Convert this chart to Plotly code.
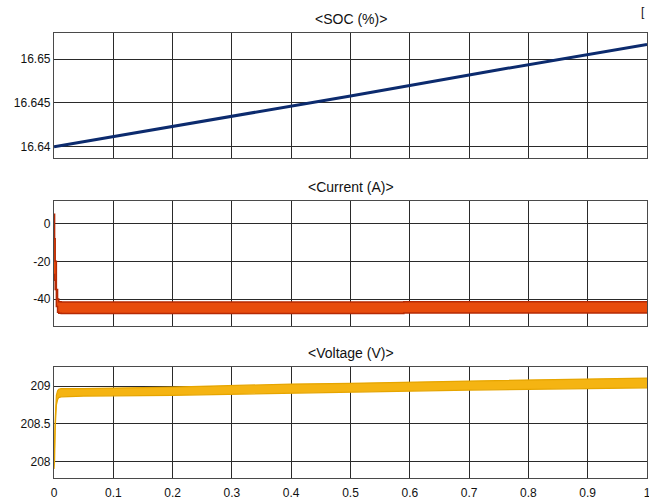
import plotly.graph_objects as go

# ---- data ----
soc_t = [0.0, 0.25, 0.5, 0.75, 1.0]
soc_v = [16.6400, 16.6429, 16.6458, 16.6488, 16.6517]

cur_t = [0.0, 0.001, 0.002, 0.004, 0.006, 0.008, 0.012, 0.1, 0.3, 0.58, 0.59, 0.8, 1.0]
cur_hi = [5.0, -8.0, -20.0, -35.0, -40.0, -41.5, -41.6, -41.6, -41.6, -41.6, -41.5, -41.5, -41.5]
cur_lo = [-27.0, -30.0, -35.0, -44.0, -47.0, -47.6, -47.7, -47.7, -47.7, -47.7, -47.4, -47.4, -47.4]

volt_t = [0.0, 0.001, 0.002, 0.004, 0.006, 0.008, 0.012, 0.05, 0.2, 0.4, 0.5, 0.7, 0.9, 1.0]
volt_hi = [207.95, 208.3, 208.55, 208.88, 208.94, 208.96, 208.97, 208.97, 208.99, 209.03, 209.04, 209.07, 209.10, 209.11]
volt_lo = [207.90, 208.0, 208.45, 208.75, 208.82, 208.85, 208.86, 208.87, 208.88, 208.91, 208.92, 208.95, 208.97, 208.98]

titles = ["<SOC (%)>", "<Current (A)>", "<Voltage (V)>"]
x_ticks = [0, 0.1, 0.2, 0.3, 0.4, 0.5, 0.6, 0.7, 0.8, 0.9, 1]
x_labels = ["0", "0.1", "0.2", "0.3", "0.4", "0.5", "0.6", "0.7", "0.8", "0.9", "1"]
soc_ticks = [16.64, 16.645, 16.65]
cur_ticks = [0, -20, -40]
volt_ticks = [208, 208.5, 209]

fig = go.Figure()

# SOC
fig.add_trace(go.Scatter(x=soc_t, y=soc_v, mode="lines",
                         line=dict(color="#0C2B6E", width=3),
                         xaxis="x", yaxis="y", showlegend=False))
# Current band
fig.add_trace(go.Scatter(x=cur_t, y=cur_lo, mode="lines",
                         line=dict(color="#B52A05", width=1.5, shape="hv"),
                         xaxis="x2", yaxis="y2", showlegend=False))
fig.add_trace(go.Scatter(x=cur_t, y=cur_hi, mode="lines", fill="tonexty",
                         fillcolor="#E84C0C",
                         line=dict(color="#B52A05", width=1.5, shape="hv"),
                         xaxis="x2", yaxis="y2", showlegend=False))
# Voltage band
fig.add_trace(go.Scatter(x=volt_t, y=volt_lo, mode="lines",
                         line=dict(color="#E6A500", width=1.2),
                         xaxis="x3", yaxis="y3", showlegend=False))
fig.add_trace(go.Scatter(x=volt_t, y=volt_hi, mode="lines", fill="tonexty",
                         fillcolor="#F5B412",
                         line=dict(color="#E6A500", width=1.2),
                         xaxis="x3", yaxis="y3", showlegend=False))

axis_common = dict(showgrid=True, gridcolor="#2a2a2a", gridwidth=1,
                   showline=True, linecolor="#4a4a4a", linewidth=1.2, mirror=True,
                   zeroline=False, ticks="", automargin=False,
                   ticklabeloverflow="allow",
                   tickfont=dict(family="Liberation Sans, Arial", size=12, color="#111111"))

xcommon = dict(axis_common, range=[0, 1.0], tickvals=x_ticks, ticktext=x_labels)

fig.update_layout(
    template="none",
    width=649, height=503,
    margin=dict(l=54, r=2, t=33, b=25),
    paper_bgcolor="white", plot_bgcolor="white",
    xaxis=dict(xcommon, anchor="y", showticklabels=False),
    yaxis=dict(axis_common, domain=[0.719, 1.0], range=[16.6387, 16.6530],
               tickvals=soc_ticks, ticktext=["16.64", "16.645", "16.65"]),
    xaxis2=dict(xcommon, anchor="y2", showticklabels=False),
    yaxis2=dict(axis_common, domain=[0.342, 0.623], range=[-54.2, 12.1],
                tickvals=cur_ticks, ticktext=["0", "-20", "-40"]),
    xaxis3=dict(xcommon, anchor="y3", showticklabels=True, ticklabelstandoff=3),
    yaxis3=dict(axis_common, domain=[0.0, 0.250], range=[207.78, 209.26],
                tickvals=volt_ticks, ticktext=["208", "208.5", "209"]),
)

title_y = [1.0, 0.623, 0.250]
for t, yv in zip(titles, title_y):
    fig.add_annotation(text=t, x=0.5, xref="paper", y=yv, yref="paper",
                       yanchor="bottom", yshift=4, showarrow=False,
                       font=dict(family="Liberation Sans, Arial", size=14, color="#111111"))

fig.add_annotation(text="[", x=1.0, xref="paper", y=1.0, yref="paper",
                   xanchor="right", yanchor="bottom", yshift=12, xshift=0, showarrow=False,
                   font=dict(family="Liberation Sans, Arial", size=12, color="#111111"))

fig.write_html("out.html", config={"displayModeBar": False},
               post_script="document.body.style.margin='0';document.body.style.overflow='hidden';")
